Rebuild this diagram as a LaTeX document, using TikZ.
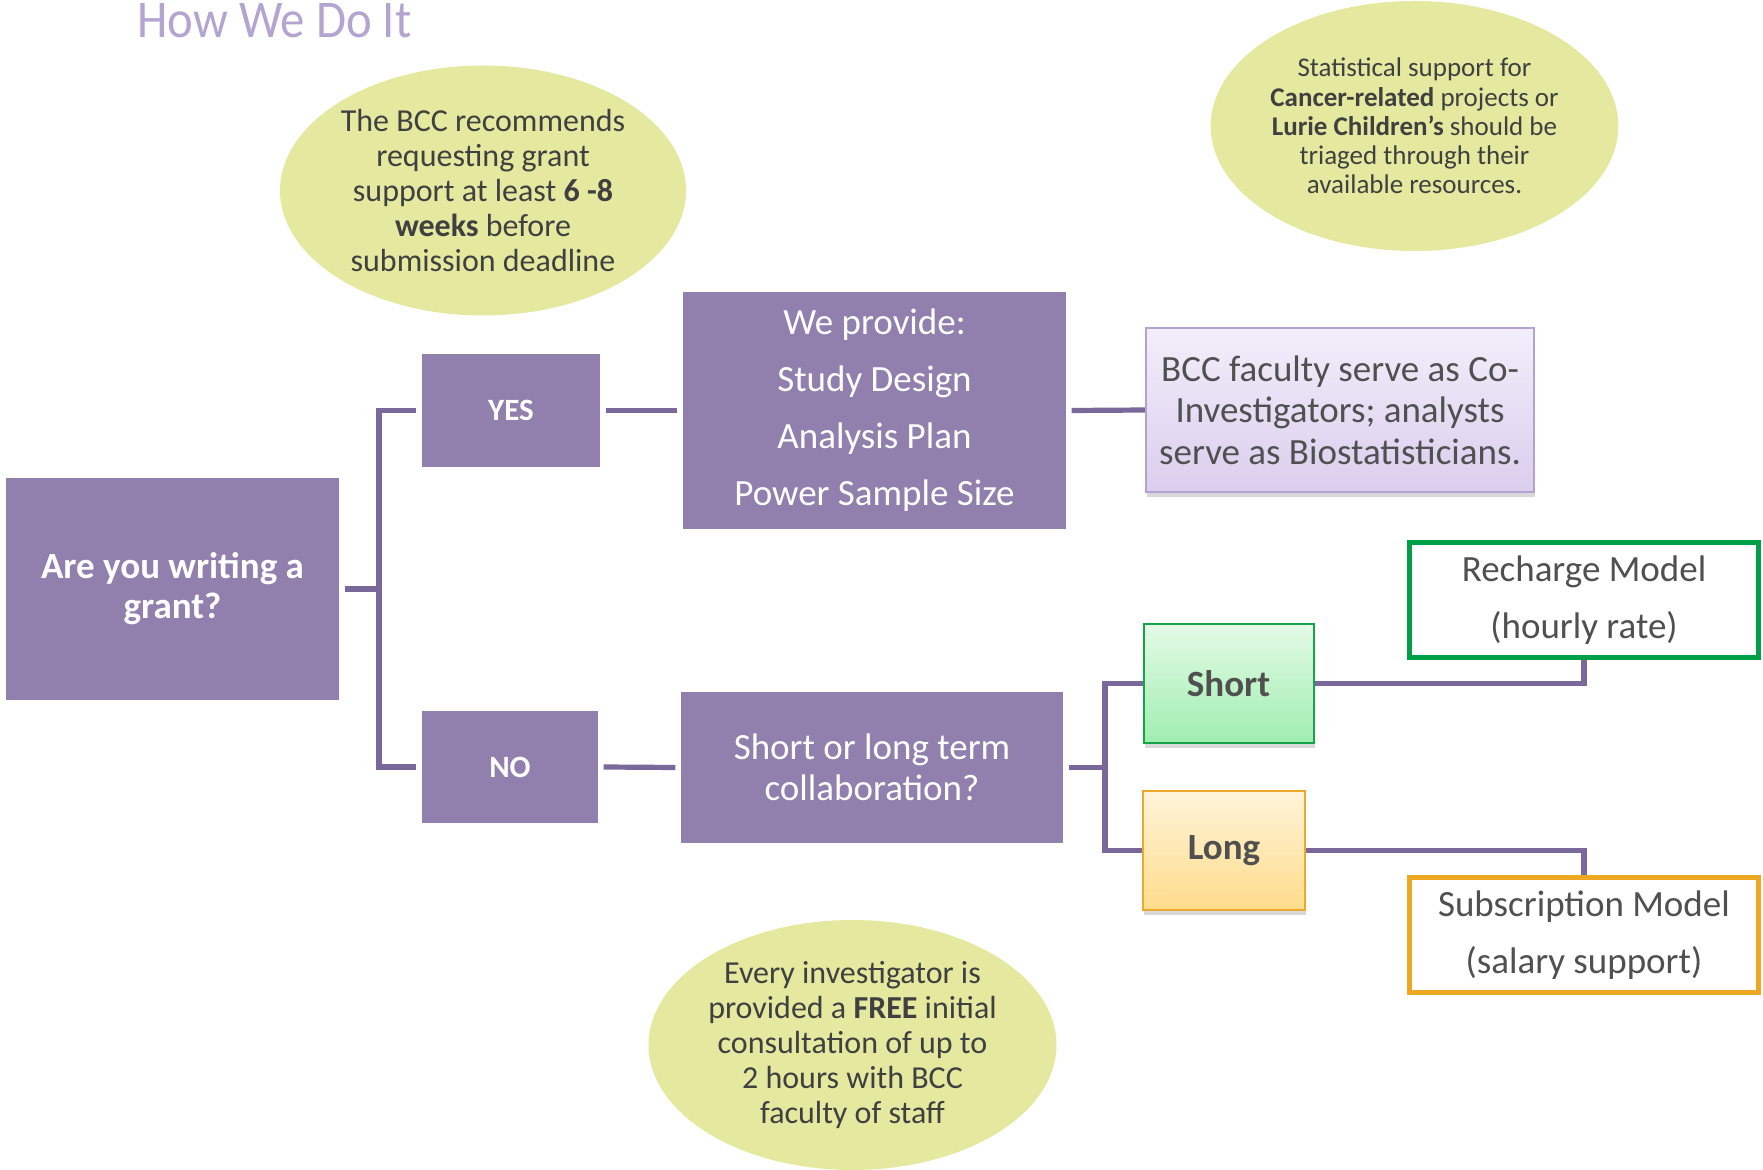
\documentclass[tikz,border=0pt]{standalone}
\usepackage{fontspec}
\setmainfont{Carlito}
\newfontfamily\titlefont[FakeStretch=0.92]{Carlito}
\usetikzlibrary{shapes.geometric,shadows}
\definecolor{boxpurple}{RGB}{145,127,173}
\definecolor{linepurple}{RGB}{122,104,154}
\definecolor{bubblecol}{RGB}{228,233,159}
\definecolor{titlecol}{RGB}{180,165,208}
\definecolor{txtgray}{RGB}{64,64,64}
\definecolor{boxgray}{RGB}{80,80,80}
\definecolor{lavtop}{RGB}{242,238,250}
\definecolor{lavbot}{RGB}{219,206,238}
\definecolor{lavborder}{RGB}{178,162,208}
\definecolor{grtop}{RGB}{228,250,230}
\definecolor{grbot}{RGB}{160,238,176}
\definecolor{grborder}{RGB}{20,165,74}
\definecolor{ortop}{RGB}{255,244,218}
\definecolor{orbot}{RGB}{253,220,138}
\definecolor{orborder}{RGB}{237,169,42}
\definecolor{recborder}{RGB}{0,160,72}
\definecolor{subborder}{RGB}{235,168,32}
\pgfdeclarelayer{background}
\pgfsetlayers{background,main}
\begin{document}
\begin{tikzpicture}[x=0.5pt,y=-0.5pt,
  pbox/.style={fill=boxpurple, text=white, inner sep=0pt, outer sep=2.8pt, align=center,
    font=\fontsize{18.5}{28.5}\selectfont},
  conn/.style={draw=linepurple, line width=2.6pt},
  bub/.style={ellipse, fill=bubblecol, text=txtgray, inner sep=0pt, align=center,
    minimum width=203pt, minimum height=125pt},
  shadowed/.style={drop shadow={shadow xshift=0.6pt, shadow yshift=-2.4pt, opacity=0.22, fill=black!70}},
  modelbox/.style={fill=white, text=boxgray, inner sep=0pt, outer sep=0pt, line width=2.5pt, align=center,
    font=\fontsize{18.5}{28.75}\selectfont, minimum width=174.75pt},
]
\useasboundingbox (0,0) rectangle (1763,1170);

% title
\node[anchor=base west, inner sep=0pt, text=titlecol, font=\titlefont\fontsize{26.5}{30}\selectfont] (title) at (137,38) {How We Do It};

% bubbles
\node[bub, font=\fontsize{16}{17.5}\selectfont] (e1) at (483,190.5)
  {The BCC recommends\\requesting grant\\support at least \textbf{6 -8}\\\textbf{weeks} before\\submission deadline};
\node[bub, font=\fontsize{13.5}{14.6}\selectfont] (e2) at (1414.5,126)
  {Statistical support for\\\textbf{Cancer-related} projects or\\\textbf{Lurie Children’s} should be\\triaged through their\\available resources.};
\node[bub, font=\fontsize{16}{17.5}\selectfont] (e3) at (852.5,1045)
  {Every investigator is\\provided a \textbf{FREE} initial\\consultation of up to\\2 hours with BCC\\faculty of staff};

% purple boxes
\node[pbox, minimum width=166.5pt, minimum height=111pt, font=\bfseries\fontsize{18.5}{20}\selectfont] (grant) at (172.5,589) {Are you writing a\\grant?};
\node[pbox, minimum width=89pt, minimum height=56.5pt, font=\bfseries\fontsize{15.5}{18}\selectfont] (yes) at (511,410.5) {YES};
\node[pbox, minimum width=88pt, minimum height=56pt, font=\bfseries\fontsize{15.5}{18}\selectfont] (no) at (510,767) {NO};
\node[pbox, minimum width=191.5pt, minimum height=118.5pt] (provide) at (874.5,410.5)
  {We provide:\\Study Design\\Analysis Plan\\Power Sample Size};
\node[pbox, minimum width=191pt, minimum height=75.5pt, font=\fontsize{18.5}{20.75}\selectfont] (shortlong) at (872,767.5)
  {Short or long term\\collaboration?};

% BCC faculty box
\node[shadowed, draw=lavborder, line width=0.8pt, top color=lavtop, bottom color=lavbot, text=boxgray,
  inner sep=0pt, outer sep=0pt, align=center, minimum width=194pt, minimum height=82pt,
  font=\fontsize{18.5}{20.75}\selectfont] (bcc) at (1340,410)
  {BCC faculty serve as Co-\\Investigators; analysts\\serve as Biostatisticians.};

% Short / Long
\node[shadowed, draw=grborder, line width=1pt, top color=grtop, bottom color=grbot, text=boxgray,
  inner sep=0pt, outer sep=0pt, minimum width=85pt, minimum height=59.5pt,
  font=\bfseries\fontsize{18.5}{20}\selectfont] (short) at (1228.5,683.5) {Short};
\node[shadowed, draw=orborder, line width=1pt, top color=ortop, bottom color=orbot, text=boxgray,
  inner sep=0pt, outer sep=0pt, minimum width=80.75pt, minimum height=59.5pt,
  font=\bfseries\fontsize{18.5}{20}\selectfont] (long) at (1224,850.5) {Long};

% model boxes
\node[modelbox, draw=recborder, minimum height=57.5pt] (recharge) at (1584,600)
  {Recharge Model\\(hourly rate)};
\node[modelbox, draw=subborder, minimum height=57.75pt] (subscription) at (1584,935)
  {Subscription Model\\(salary support)};

% junctions
\coordinate (jA) at (379,589);
\coordinate (jB) at (1105,767.5);

\begin{pgfonlayer}{background}
\draw[conn] (grant.east) -- (jA);
\draw[conn] (yes.west) -| (jA) |- (no.west);
\draw[conn] (yes.east) -- (provide.west);
\draw[conn] (provide.east) -- (bcc.west);
\draw[conn] (no.east) -- (shortlong.west);
\draw[conn] (shortlong.east) -- (jB);
\draw[conn] (short.west) -| (jB) |- (long.west);
\draw[conn] (short.east) -| (recharge.south);
\draw[conn] (long.east) -| (subscription.north);
\end{pgfonlayer}
\end{tikzpicture}
\end{document}
